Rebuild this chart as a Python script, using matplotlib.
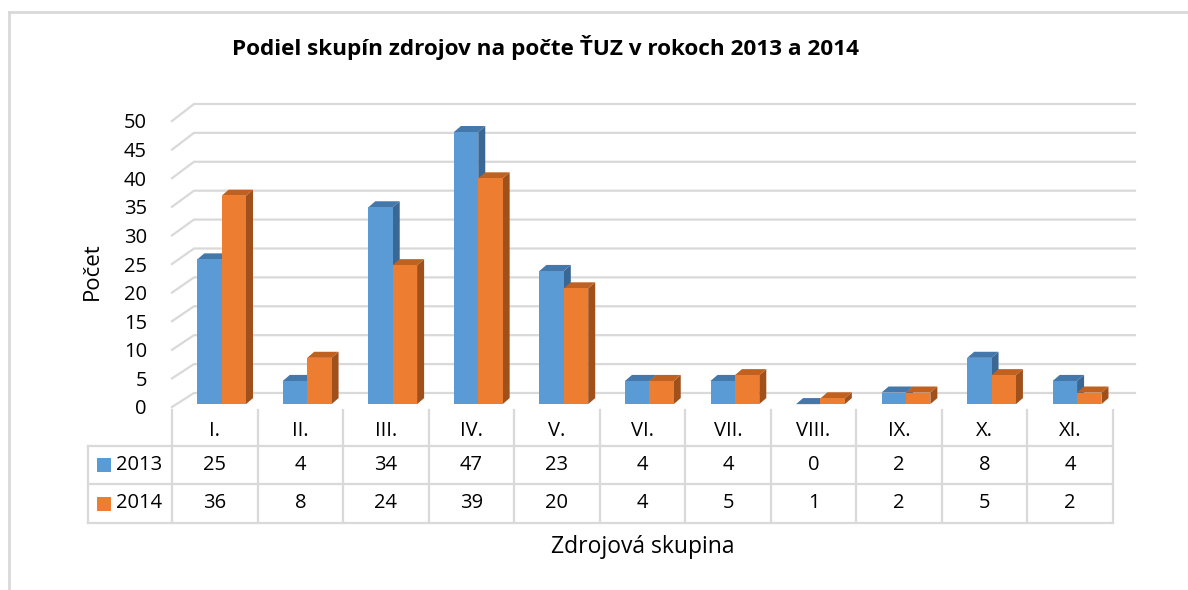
import matplotlib
matplotlib.use("Agg")
import matplotlib.pyplot as plt
from matplotlib.patches import Rectangle, Polygon
from matplotlib.lines import Line2D

plt.rcParams['font.family'] = ['Open Sans', 'DejaVu Sans']

categories = ['I.', 'II.', 'III.', 'IV.', 'V.', 'VI.', 'VII.', 'VIII.', 'IX.', 'X.', 'XI.']
series_names = ['2013', '2014']
values_2013 = [25, 4, 34, 47, 23, 4, 4, 0, 2, 8, 4]
values_2014 = [36, 8, 24, 39, 20, 4, 5, 1, 2, 5, 2]
yticks = [0, 5, 10, 15, 20, 25, 30, 35, 40, 45, 50]

front_colors = ['#5B9BD5', '#ED7D31']
top_colors = ['#4477AA', '#C0611F']
side_colors = ['#3A6794', '#A0501B']
grid_color = '#D9D9D9'

W, H = 1188, 590
fig = plt.figure(figsize=(W / 100, H / 100), dpi=100)


def fx(px):
    return px / W


def fy(py):
    return 1 - py / H


# plot area (front plane)
left, right, bottom, top = 172, 1113, 407, 121
ax = fig.add_axes([fx(left), fy(bottom), fx(right - left), fy(top) - fy(bottom)])
n = len(categories)
ax.set_xlim(-0.5, n - 0.5)
ax.set_ylim(0, 50)
for s in ax.spines.values():
    s.set_visible(False)
ax.set_xticks([])
ax.set_yticks(yticks)
ax.set_yticklabels([str(t) for t in yticks], fontsize=14.5)
ax.tick_params(axis='y', length=0, pad=18)
ax.patch.set_alpha(0)

# back wall gridlines with slanted side-wall segment
gdx = 0.257
for v in yticks:
    vb = 2.45 + 1.0105 * v
    ax.plot([-0.5, -0.5 + gdx, n - 0.5 + gdx], [v, vb, vb], color=grid_color,
            lw=1.6, clip_on=False, zorder=1)

# 3D bars (front face sits a little behind the front plane)
bw = 0.285
shift = 0.08
ddx, ddy = 0.082, 1.06
base, scale = 0.5, 1.012
for s, vals in enumerate([values_2013, values_2014]):
    for i, v in enumerate(vals):
        x0 = i + shift - bw + s * bw
        h = base + v * scale
        z = 3 + s
        ax.add_patch(Polygon([(x0 + bw, base), (x0 + bw + ddx, base + ddy), (x0 + bw + ddx, h + ddy), (x0 + bw, h)],
                             closed=True, facecolor=side_colors[s], edgecolor='none', zorder=z, clip_on=False))
        ax.add_patch(Polygon([(x0, h), (x0 + bw, h), (x0 + bw + ddx, h + ddy), (x0 + ddx, h + ddy)],
                             closed=True, facecolor=top_colors[s], edgecolor='none', zorder=z, clip_on=False))
        if v > 0:
            ax.add_patch(Rectangle((x0, base), bw, h - base, facecolor=front_colors[s], edgecolor='none',
                                   zorder=z, clip_on=False))

# data table
col_w = (right - left) / n
row_top, row1, row2, row3 = 410, 446, 484, 523
tab_left = 88
lw_t = 1.6
fs_tab = 14.5
for py in [row1, row2, row3]:
    fig.add_artist(Line2D([fx(tab_left), fx(right)], [fy(py), fy(py)], color=grid_color, lw=lw_t))
fig.add_artist(Line2D([fx(tab_left), fx(tab_left)], [fy(row1), fy(row3)], color=grid_color, lw=lw_t))
for k in range(n + 1):
    px = left + k * col_w
    fig.add_artist(Line2D([fx(px), fx(px)], [fy(row_top), fy(row3)], color=grid_color, lw=lw_t))

for i, c in enumerate(categories):
    cx = left + (i + 0.5) * col_w
    fig.text(fx(cx), fy((row_top + row1) / 2 + 3), c, ha='center', va='center', fontsize=fs_tab)
    fig.text(fx(cx), fy((row1 + row2) / 2), str(values_2013[i]), ha='center', va='center', fontsize=fs_tab)
    fig.text(fx(cx), fy((row2 + row3) / 2), str(values_2014[i]), ha='center', va='center', fontsize=fs_tab)

for s, (name, rows) in enumerate(zip(series_names, [(row1, row2), (row2, row3)])):
    cy = (rows[0] + rows[1]) / 2
    fig.add_artist(Rectangle((fx(97), fy(cy + 7)), fx(14), fy(0) - fy(14),
                             facecolor=front_colors[s], edgecolor='none'))
    fig.text(fx(116), fy(cy), name, ha='left', va='center', fontsize=fs_tab)

# titles
fig.text(fx(546), fy(47), 'Podiel skupín zdrojov na počte ŤUZ v rokoch 2013 a 2014',
         ha='center', va='center', fontsize=16.2, fontweight='bold')
fig.text(fx(92), fy(271), 'Počet', ha='center', va='center', rotation=90, fontsize=16)
fig.text(fx(643), fy(547), 'Zdrojová skupina', ha='center', va='center', fontsize=16.5)

# chart border
fig.add_artist(Line2D([fx(8.5), fx(8.5)], [fy(11.5), fy(H)], color=grid_color, lw=2))
fig.add_artist(Line2D([fx(8.5), fx(W)], [fy(11.5), fy(11.5)], color=grid_color, lw=2))

fig.savefig('out.png', dpi=100)
